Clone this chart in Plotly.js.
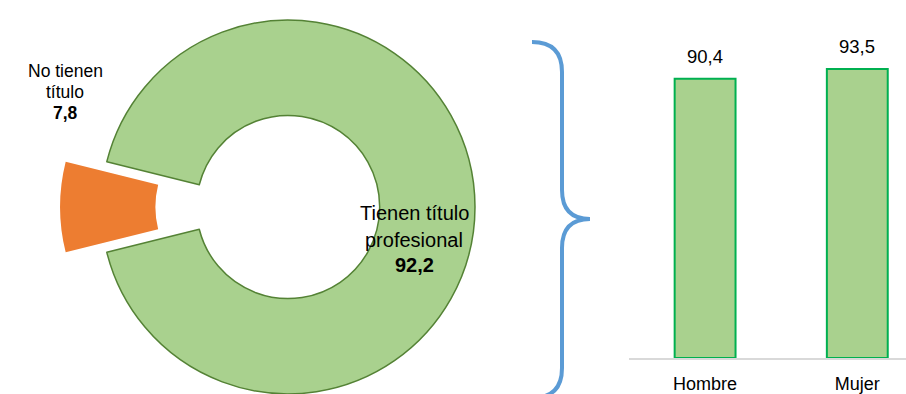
<!DOCTYPE html>
<html>
<head>
<meta charset="utf-8">
<script src="https://cdn.plot.ly/plotly-3.0.1.min.js"></script>
<style>
  html, body { margin: 0; padding: 0; overflow: hidden; background: #fff; }
  #chart { position: absolute; left: 0; top: -21px; width: 906px; height: 456px; }
</style>
</head>
<body>
<div id="chart"></div>
<script>
// donut data
const pieLabels = ['No tienen<br>título', 'Tienen título<br>profesional'];
const pieValues = [7.8, 92.2];
const pieColors = ['#ED7D31', '#A9D18E'];

// bar data
const barCategories = ['Hombre', 'Mujer'];
const barValues = [90.4, 93.5];

const FONT = "'Liberation Sans', Arial, sans-serif";
const W = 906, H = 456, TOP = -21;

// window pixel -> paper coords
function fx(x) { return x / W; }
function fy(y) { return 1 - (y - TOP) / H; }
function fmt(v) { return v.toFixed(1).replace('.', ','); }

const pie = {
    type: 'pie',
    labels: pieLabels,
    values: pieValues,
    sort: false,
    direction: 'clockwise',
    rotation: 270 - pieValues[0] / 100 * 180,
    hole: 0.49,
    pull: [0.22, 0],
    marker: {
        colors: pieColors,
        line: {color: ['#ffffff', '#548235'], width: [0, 1.5]}
    },
    textinfo: 'none',
    hoverinfo: 'skip',
    domain: {x: [0, 0.636], y: [0, 1]},
    showlegend: false
};

const bars = {
    type: 'bar',
    x: barCategories,
    y: barValues,
    width: 0.4,
    marker: {color: '#A9D18E', line: {color: '#00B050', width: 2}},
    hoverinfo: 'skip',
    showlegend: false
};

// pie labels, one annotation per line
const annotations = [];
const labelPos = [
    {x: 65, y: [70.5, 91.5, 112.5], size: 17.5},
    {x: 414, y: [213.5, 239.5, 265], size: 20}
];
pieLabels.forEach(function (lab, i) {
    const lines = lab.split('<br>').concat(['<b>' + fmt(pieValues[i]) + '</b>']);
    lines.forEach(function (line, j) {
        annotations.push({
            xref: 'paper', yref: 'paper',
            x: fx(labelPos[i].x), y: fy(labelPos[i].y[j]),
            xanchor: 'center', yanchor: 'middle',
            text: line, showarrow: false, borderpad: 0,
            font: {family: FONT, size: labelPos[i].size, color: '#000'}
        });
    });
});

// bar value labels
barCategories.forEach(function (c, i) {
    annotations.push({
        x: c, y: barValues[i], xref: 'x', yref: 'y',
        yanchor: 'bottom', yshift: 10,
        text: fmt(barValues[i]), showarrow: false,
        font: {family: FONT, size: 18.5, color: '#000'}
    });
});

// curly brace
const brace = 'M' + fx(532) + ',' + fy(42) +
    ' Q' + fx(562) + ',' + fy(42) + ' ' + fx(562) + ',' + fy(72) +
    ' L' + fx(562) + ',' + fy(190) +
    ' Q' + fx(562) + ',' + fy(219) + ' ' + fx(590) + ',' + fy(219) +
    ' Q' + fx(562) + ',' + fy(219) + ' ' + fx(562) + ',' + fy(248) +
    ' L' + fx(562) + ',' + fy(368) +
    ' Q' + fx(562) + ',' + fy(398) + ' ' + fx(532) + ',' + fy(398);

const layout = {
    width: W,
    height: H,
    margin: {l: 0, r: 0, t: 0, b: 0},
    paper_bgcolor: '#fff',
    plot_bgcolor: 'rgba(0,0,0,0)',
    xaxis: {
        domain: [629 / W, 1],
        range: [-0.5, 1.32],
        showline: true, linecolor: '#D9D9D9', linewidth: 1.5,
        showgrid: false, zeroline: false, ticks: '',
        tickfont: {family: FONT, size: 18, color: '#000'},
        ticklabelstandoff: 9
    },
    yaxis: {
        domain: [fy(358), fy(49)],
        range: [0, 100],
        visible: false
    },
    annotations: annotations,
    shapes: [{
        type: 'path', xref: 'paper', yref: 'paper',
        path: brace,
        line: {color: '#5B9BD5', width: 4}
    }]
};

Plotly.newPlot('chart', [pie, bars], layout, {displayModeBar: false, staticPlot: true});
</script>
</body>
</html>
